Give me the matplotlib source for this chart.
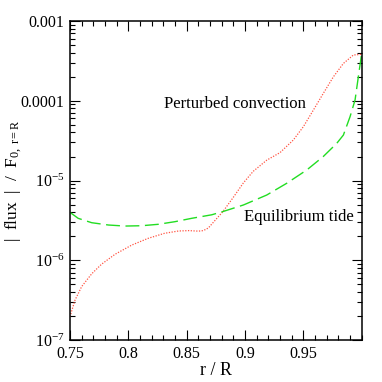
import numpy as np
import matplotlib
matplotlib.use("Agg")
import matplotlib.pyplot as plt
from matplotlib.ticker import FixedLocator, MultipleLocator, LogLocator, NullFormatter

plt.rcParams['font.family'] = 'Liberation Serif'
plt.rcParams['mathtext.fontset'] = 'custom'
plt.rcParams['mathtext.rm'] = 'Liberation Serif'
plt.rcParams['mathtext.it'] = 'Liberation Serif:italic'

# Perturbed convection (red dotted): r/R and log10 |flux|
conv_r = [0.750, 0.7543, 0.760, 0.7686, 0.777, 0.7886, 0.803, 0.817, 0.831, 0.843,
          0.852, 0.860, 0.8643, 0.8686, 0.8714, 0.8811, 0.890, 0.8986, 0.907, 0.9186,
          0.930, 0.9414, 0.950, 0.9586, 0.9671, 0.9757, 0.9843, 0.9929, 1.000]
conv_logf = [-6.708, -6.500, -6.330, -6.170, -6.050, -5.925, -5.809, -5.725, -5.662, -5.633,
             -5.628, -5.635, -5.628, -5.595, -5.548, -5.389, -5.210, -5.030, -4.885, -4.745,
             -4.650, -4.492, -4.325, -4.116, -3.907, -3.700, -3.532, -3.426, -3.418]

# Equilibrium tide (green dashed)
tide_r = [0.750, 0.757, 0.7686, 0.783, 0.797, 0.8114, 0.8257, 0.840, 0.8543, 0.8714,
          0.8811, 0.8986, 0.9186, 0.9357, 0.9529, 0.967, 0.9786, 0.9843, 0.990, 0.9943,
          0.9971, 1.000]
tide_logf = [-5.399, -5.474, -5.529, -5.558, -5.571, -5.567, -5.549, -5.516, -5.474, -5.430,
             -5.389, -5.307, -5.182, -5.035, -4.868, -4.700, -4.534, -4.430, -4.200, -3.990,
             -3.700, -3.405]

ytick_vals = [1e-7, 1e-6, 1e-5, 1e-4, 1e-3]
ytick_labels = [r'$\mathregular{10^{-7}}$', r'$\mathregular{10^{-6}}$',
                r'$\mathregular{10^{-5}}$', '0.0001', '0.001']
xtick_vals = [0.75, 0.8, 0.85, 0.9, 0.95]
xtick_labels = ['0.75', '0.8', '0.85', '0.9', '0.95']

fig = plt.figure(figsize=(3.82, 3.82), dpi=100)
ax = fig.add_axes([0.1832, 0.1099, 0.7637, 0.8351])

ax.plot(conv_r, 10 ** np.array(conv_logf), color='#ff5544', ls=(0, (1, 1.2)), lw=0.9)
ax.plot(tide_r, 10 ** np.array(tide_logf), color='#22dd22', ls=(0, (10, 4)), lw=1.0)

ax.set_yscale('log')
ax.set_xlim(0.75, 1.0)
ax.set_ylim(1e-7, 1e-3)

ax.xaxis.set_major_locator(FixedLocator(xtick_vals))
ax.set_xticklabels(xtick_labels)
ax.xaxis.set_minor_locator(MultipleLocator(0.01))
ax.yaxis.set_major_locator(FixedLocator(ytick_vals))
ax.set_yticklabels(ytick_labels)
ax.yaxis.set_minor_locator(LogLocator(base=10, subs=np.arange(2, 10)))
ax.yaxis.set_minor_formatter(NullFormatter())

ax.tick_params(which='both', direction='in', top=True, right=True, labelsize=11.5, width=0.8)
ax.tick_params(which='major', length=7, pad=4)
ax.tick_params(which='minor', length=3.5)
for s in ax.spines.values():
    s.set_linewidth(1.1)

ax.set_xlabel('r / R', fontsize=13)
ax.xaxis.set_label_coords(0.5, -0.068)
ax.set_ylabel(r'|  flux  |  /  F$_{\mathregular{0,\ r=R}}$', fontsize=12.5)
ax.yaxis.set_label_coords(-0.158, 0.5)

ax.text(0.8914, 10 ** -4.04, 'Perturbed convection', fontsize=12, ha='center', va='center')
ax.text(0.9460, 10 ** -5.46, 'Equilibrium tide', fontsize=12, ha='center', va='center')

fig.savefig('out.png', dpi=100)
